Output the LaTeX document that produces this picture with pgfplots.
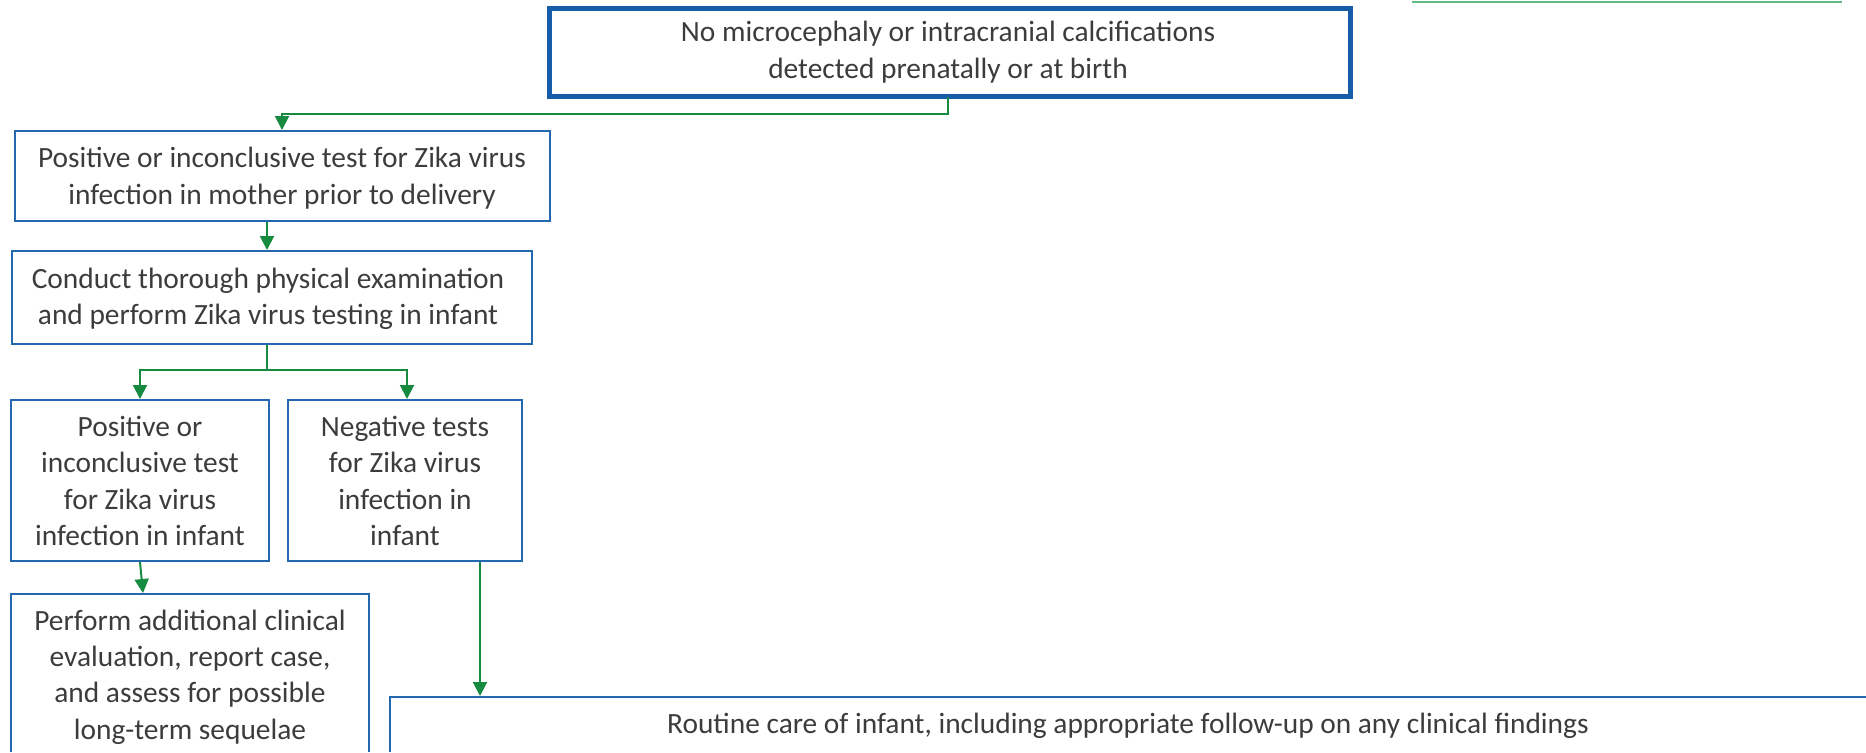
\documentclass[border=0pt]{standalone}
\usepackage{pgfplots}
\pgfplotsset{compat=1.18}
\usepackage{fontspec}
\setmainfont{Carlito}
\usetikzlibrary{arrows.meta}
\definecolor{boxblue}{RGB}{36,104,176}
\definecolor{topblue}{RGB}{22,92,168}
\definecolor{lineg}{RGB}{22,138,62}
\definecolor{lightg}{RGB}{100,186,135}
\definecolor{txt}{RGB}{60,60,60}
\begin{document}
\begin{tikzpicture}
\begin{axis}[
  width=933pt, height=376pt, scale only axis,
  xmin=0, xmax=1866, ymin=0, ymax=752, y dir=reverse,
  axis lines=none, ticks=none,
]
% boxes
\addplot[draw=lightg, line width=1.2pt] coordinates {(1412,2) (1842,2)};
\addplot[draw=topblue, line width=2.5pt] coordinates {(549,8) (1350,8) (1350,96) (549,96)} -- cycle;
\addplot[draw=boxblue, line width=1pt] coordinates {(15,131) (550,131) (550,221) (15,221)} -- cycle;
\addplot[draw=boxblue, line width=1pt] coordinates {(12,251) (532,251) (532,344) (12,344)} -- cycle;
\addplot[draw=boxblue, line width=1pt] coordinates {(11,400) (269,400) (269,561) (11,561)} -- cycle;
\addplot[draw=boxblue, line width=1pt] coordinates {(288,400) (522,400) (522,561) (288,561)} -- cycle;
\addplot[draw=boxblue, line width=1pt] coordinates {(11,752) (11,594) (369,594) (369,752)};
\addplot[draw=boxblue, line width=1pt] coordinates {(390,752) (390,697) (1866,697)};
% connectors
\addplot[draw=lineg, line width=1pt, -{Triangle[length=7pt,width=7pt]}] coordinates {(948,97) (948,114) (282,114) (282,130)};
\addplot[draw=lineg, line width=1pt, -{Triangle[length=7pt,width=7pt]}] coordinates {(267,222) (267,250)};
\addplot[draw=lineg, line width=1pt] coordinates {(267,345) (267,370)};
\addplot[draw=lineg, line width=1pt, -{Triangle[length=7pt,width=7pt]}] coordinates {(407,370) (140,370) (140,399)};
\addplot[draw=lineg, line width=1pt, -{Triangle[length=7pt,width=7pt]}] coordinates {(267,370) (407,370) (407,399)};
\addplot[draw=lineg, line width=1pt, -{Triangle[length=7pt,width=7pt]}] coordinates {(140,562) (143,593)};
\addplot[draw=lineg, line width=1pt, -{Triangle[length=7pt,width=7pt]}] coordinates {(480,562) (480,696)};
% texts
\begin{scope}[every node/.style={text=txt, align=center, font=\fontsize{14.7}{18.2}\selectfont, inner sep=0pt}]
\node at (axis cs:948,52) {No microcephaly or intracranial calcifications\\detected prenatally or at birth};
\node at (axis cs:282,178) {Positive or inconclusive test for Zika virus\\infection in mother prior to delivery};
\node at (axis cs:268,299) {Conduct thorough physical examination\\and perform Zika virus testing in infant};
\node at (axis cs:140,481) {Positive or\\inconclusive test\\for Zika virus\\infection in infant};
\node at (axis cs:405,481) {Negative tests\\for Zika virus\\infection in\\infant};
\node at (axis cs:190,677) {Perform additional clinical\\evaluation, report case,\\and assess for possible\\long-term sequelae};
\node at (axis cs:1128,726) {Routine care of infant, including appropriate follow-up on any clinical findings};
\end{scope}
\end{axis}
\pgfresetboundingbox
\path[use as bounding box] (current axis.south west) rectangle (current axis.north east);
\end{tikzpicture}
\end{document}
